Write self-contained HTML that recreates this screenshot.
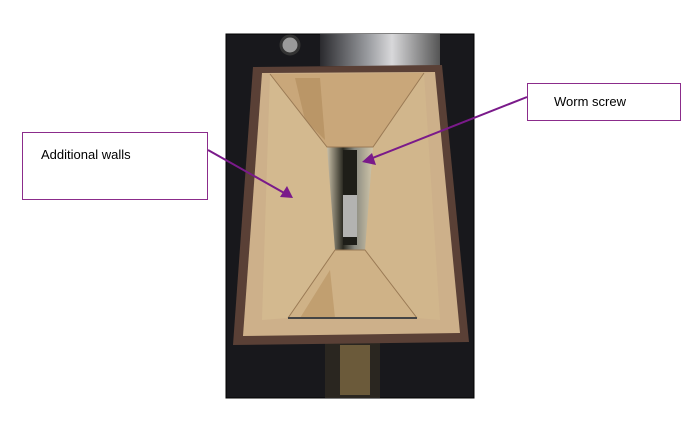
<!DOCTYPE html>
<html><head><meta charset="utf-8"><style>
html,body{margin:0;padding:0;background:#fff;}
body{width:693px;height:421px;position:relative;overflow:hidden;font-family:"Liberation Sans",sans-serif;}
.box{position:absolute;border:1px solid #8b2c8b;background:#fff;font-size:13px;color:#000;box-sizing:border-box;}
</style></head><body>
<svg width="693" height="421" style="position:absolute;left:0;top:0">
  <defs>
    <linearGradient id="metal" x1="0" x2="1">
      <stop offset="0" stop-color="#2a2a2e"/><stop offset="0.4" stop-color="#9a9ca0"/><stop offset="0.6" stop-color="#d8d8da"/><stop offset="1" stop-color="#555"/>
    </linearGradient>
    <linearGradient id="slot" x1="0" x2="1">
      <stop offset="0" stop-color="#c8bfa8"/><stop offset="0.35" stop-color="#2b2b22"/><stop offset="0.6" stop-color="#8a8a80"/><stop offset="1" stop-color="#d0c6aa"/>
    </linearGradient>
  </defs>
  <rect x="226" y="34" width="248" height="364" fill="#18181c" stroke="#000" stroke-width="1"/>
  <rect x="320" y="34" width="120" height="32" fill="url(#metal)"/>
  <circle cx="290" cy="45" r="9" fill="#9a9a9a" stroke="#333" stroke-width="3"/>
  <rect x="325" y="340" width="55" height="58" fill="#2a2620"/>
  <rect x="340" y="345" width="30" height="50" fill="#6b5a3a"/>
  <polygon points="253,67 442,65 469,342 233,345" fill="#5a4036"/>
  <polygon points="262,73 435,72 460,333 243,336" fill="#cdb08a"/>
  <polygon points="270,74 424,73 373,147 327,147" fill="#c9a77a"/>
  <polygon points="295,78 320,78 325,140 305,120" fill="#b08a5a" opacity="0.6"/>
  <polygon points="335,250 365,250 417,318 288,318" fill="#cfb287"/>
  <polygon points="300,318 330,270 335,318" fill="#b48c5a" opacity="0.5"/>
  <polygon points="270,74 327,147 335,250 288,318 262,320" fill="#d3b98f"/>
  <polygon points="424,73 373,147 365,250 417,318 440,320" fill="#d1b68c"/>
  <polygon points="327,147 373,147 365,250 335,250" fill="url(#slot)"/>
  <rect x="343" y="150" width="14" height="95" fill="#1e1e18"/>
  <rect x="343" y="195" width="14" height="42" fill="#d8d8d8" opacity="0.8"/>
  <polyline points="270,74 327,147 373,147 424,73" fill="none" stroke="#9a7a55" stroke-width="1"/>
  <polyline points="288,318 335,250 365,250 417,318" fill="none" stroke="#9a7a55" stroke-width="1"/>
  <line x1="288" y1="318" x2="417" y2="318" stroke="#444" stroke-width="2"/>
  <line x1="208" y1="150" x2="286" y2="194" stroke="#7a1a8a" stroke-width="2"/>
  <polygon points="293,198 280,197 287,186" fill="#7a1a8a"/>
  <line x1="527" y1="97" x2="370" y2="159" stroke="#7a1a8a" stroke-width="2"/>
  <polygon points="362,162 372,153 376,165" fill="#7a1a8a"/>
</svg>
<div class="box" style="left:22px;top:132px;width:186px;height:68px;padding:14px 0 0 18px;">Additional walls</div>
<div class="box" style="left:527px;top:83px;width:154px;height:38px;padding:10px 0 0 26px;">Worm screw</div>
</body></html>
